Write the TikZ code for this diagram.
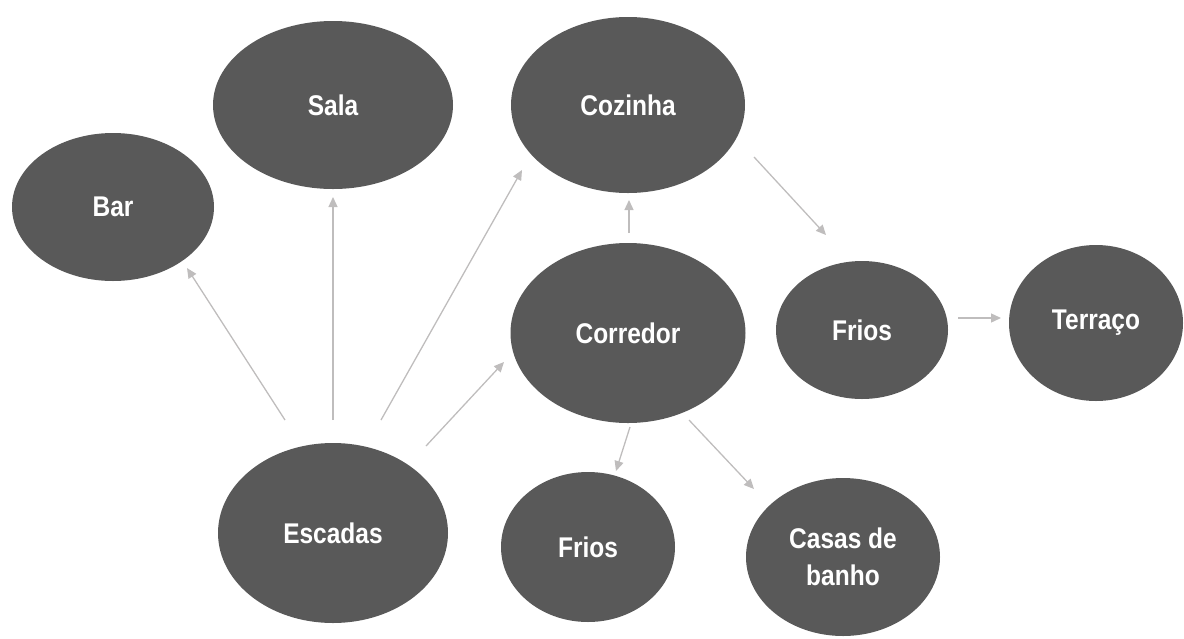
\documentclass[tikz,border=0pt]{standalone}
\usepackage{fontspec}
\setmainfont{Liberation Sans}[FakeStretch=0.86]
\usetikzlibrary{shapes.geometric,arrows.meta}
\definecolor{fillgray}{HTML}{595959}
\definecolor{arrgray}{HTML}{BFBDBD}
\begin{document}
\begin{tikzpicture}[x=1pt,y=-1pt,
  room/.style={ellipse,fill=fillgray,draw=none,inner sep=0pt,text=white,
    font=\bfseries\fontsize{28.5}{37}\selectfont,align=center},
  arr/.style={draw=arrgray,line width=1.3pt,-{Triangle[length=10pt,width=9pt]}}]
\useasboundingbox (0,0) rectangle (1184,638);
\node[room,minimum width=202pt,minimum height=148pt] (bar) at (113,207) {Bar};
\node[room,minimum width=240pt,minimum height=168pt] (sala) at (333,105) {Sala};
\node[room,minimum width=234pt,minimum height=176pt] (coz) at (628,105) {Cozinha};
\node[room,minimum width=235pt,minimum height=180pt] (cor) at (628,333) {Corredor};
\node[room,minimum width=172pt,minimum height=138pt] (frios) at (862,330) {Frios};
\node[room,minimum width=174pt,minimum height=156pt] (ter) at (1096,323) {Terraço};
\node[room,minimum width=230pt,minimum height=180pt] (esc) at (333,533) {Escadas};
\node[room,minimum width=174pt,minimum height=150pt] (friosb) at (588,547) {Frios};
\node[room,minimum width=194pt,minimum height=158pt] (casas) at (843,557) {Casas de\\banho};
\draw[arr] ([shift={(-48,-113)}]esc.center) -- ([shift={(74,61)}]bar.center);
\draw[arr] ([shift={(0,-113)}]esc.center) -- ([shift={(0,92)}]sala.center);
\draw[arr] ([shift={(48,-113)}]esc.center) -- ([shift={(-106,65)}]coz.center);
\draw[arr] ([shift={(93,-87)}]esc.center) -- ([shift={(-124,29)}]cor.center);
\draw[arr] ([shift={(1,-100)}]cor.center) -- ([shift={(1,95)}]coz.center);
\draw[arr] ([shift={(126,52)}]coz.center) -- ([shift={(-36,-95)}]frios.center);
\draw[arr] ([shift={(96,-12)}]frios.center) -- ([shift={(-95,-5)}]ter.center);
\draw[arr] ([shift={(2,94)}]cor.center) -- ([shift={(28,-76)}]friosb.center);
\draw[arr] ([shift={(61,87)}]cor.center) -- ([shift={(-89,-68)}]casas.center);
\end{tikzpicture}
\end{document}
